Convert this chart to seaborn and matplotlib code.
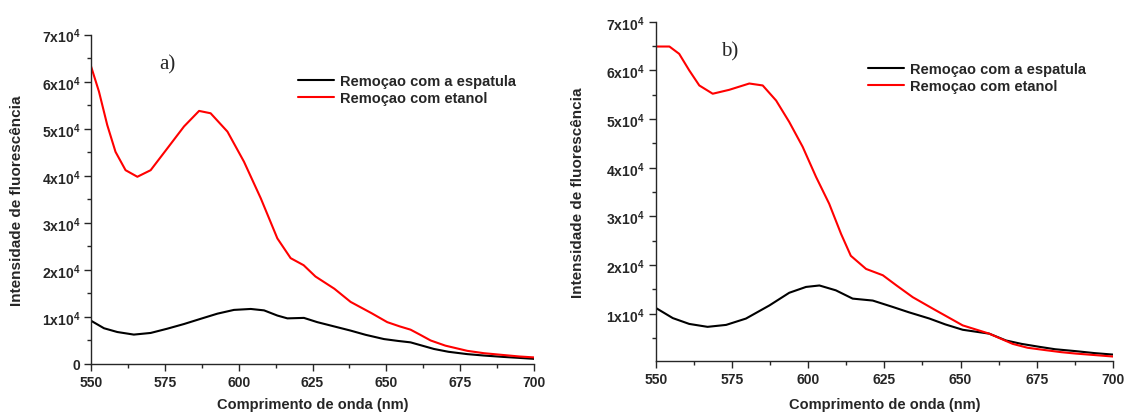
import numpy as np
import pandas as pd
import seaborn as sns
import matplotlib
matplotlib.use("Agg")
import matplotlib.pyplot as plt
from matplotlib.ticker import MultipleLocator, FuncFormatter

# panel a) values (y in units of 1e4)
a_esp_x = [550, 554.4, 558.9, 564.5, 570.2, 575.8, 581.5, 587.1, 592.8, 598.4, 604.1, 608.6, 613.1, 616.5, 622.1, 626.6, 631, 637.9, 643, 649.2, 654, 658.2, 666.1, 671, 677.4, 683, 689.8, 695, 700]
a_esp_y = [0.92, 0.76, 0.68, 0.625, 0.66, 0.75, 0.85, 0.96, 1.07, 1.15, 1.17, 1.14, 1.03, 0.97, 0.98, 0.89, 0.82, 0.71, 0.62, 0.53, 0.49, 0.46, 0.32, 0.26, 0.21, 0.18, 0.15, 0.13, 0.11]
a_eta_x = [550, 552.7, 555.5, 558.3, 561.7, 565.7, 570.2, 575.8, 581.5, 586.6, 590.5, 596.2, 601.8, 607.5, 613.1, 617.6, 622, 626, 632.4, 637.9, 645, 650.3, 654.5, 658.2, 661.5, 665, 670, 677.4, 683, 689.8, 695, 700]
a_eta_y = [6.33, 5.79, 5.08, 4.51, 4.12, 3.98, 4.12, 4.58, 5.05, 5.38, 5.33, 4.94, 4.30, 3.52, 2.67, 2.25, 2.1, 1.86, 1.60, 1.32, 1.08, 0.89, 0.80, 0.73, 0.62, 0.50, 0.39, 0.28, 0.23, 0.19, 0.16, 0.14]

# panel b)
b_esp_x = [550, 555.6, 561, 567, 573.1, 579.6, 587.3, 593.8, 599.3, 603.7, 609.1, 614.6, 621.2, 627.7, 633, 639.8, 645, 650.7, 659.4, 664.9, 670, 675.8, 681, 687.9, 694, 700]
b_esp_y = [1.12, 0.91, 0.79, 0.73, 0.77, 0.90, 1.17, 1.43, 1.55, 1.58, 1.48, 1.31, 1.27, 1.14, 1.03, 0.90, 0.78, 0.67, 0.59, 0.45, 0.38, 0.32, 0.27, 0.23, 0.19, 0.16]
b_eta_x = [550, 554.5, 557.7, 561.0, 564.3, 568.7, 574.1, 580.7, 585.1, 589.5, 593.8, 598.2, 602.6, 606.9, 610.8, 614, 619, 624.5, 629, 634.3, 641, 650.7, 659.4, 667.1, 672, 678, 683, 687.9, 694, 700]
b_eta_y = [6.49, 6.49, 6.34, 6.00, 5.69, 5.52, 5.60, 5.73, 5.69, 5.38, 4.94, 4.43, 3.81, 3.26, 2.64, 2.19, 1.92, 1.79, 1.58, 1.34, 1.10, 0.76, 0.59, 0.38, 0.30, 0.25, 0.21, 0.18, 0.15, 0.12]

lbl_esp = "Remoçao com a espatula"
lbl_eta = "Remoçao com etanol"


def make_df(ex, ey, tx, ty):
    d1 = pd.DataFrame({"x": ex, "y": np.array(ey) * 1e4, "serie": lbl_esp})
    d2 = pd.DataFrame({"x": tx, "y": np.array(ty) * 1e4, "serie": lbl_eta})
    return pd.concat([d1, d2], ignore_index=True)


sns.set_style("ticks")
plt.rcParams["font.family"] = ["Liberation Sans", "DejaVu Sans"]
plt.rcParams["font.weight"] = "bold"
plt.rcParams["mathtext.fontset"] = "custom"
plt.rcParams["mathtext.rm"] = "Liberation Sans:bold"
plt.rcParams["mathtext.default"] = "rm"

W, H = 1126, 414
fig = plt.figure(figsize=(W / 100, H / 100), dpi=100)
# axes boxes in pixels: left, right, top, bottom
ax1 = fig.add_axes([91 / W, 1 - 365 / H, (534 - 91) / W, (365 - 35.7) / H])
ax2 = fig.add_axes([655.7 / W, 1 - 362.3 / H, (1113 - 655.7) / W, (362.3 - 22.7) / H])

fmt = FuncFormatter(lambda v, p: "0" if v == 0 else "%dx10$^4$" % round(v / 1e4))

panels = [
    (ax1, make_df(a_esp_x, a_esp_y, a_eta_x, a_eta_y), "a)", (0.0, 7e4), (159, 65),
     (298, 81), -0.152, -0.100),
    (ax2, make_df(b_esp_x, b_esp_y, b_eta_x, b_eta_y), "b)", (220, 7e4), (721, 52),
     (868, 69), -0.155, -0.105),
]

for ax, df, tag, ylim, tagpos, legpos, ylx, xly in panels:
    sns.lineplot(data=df, x="x", y="y", hue="serie", palette={lbl_esp: "black", lbl_eta: "red"},
                 linewidth=1.5, ax=ax, sort=True)
    ax.set_xlim(550, 700)
    ax.set_ylim(*ylim)
    ax.xaxis.set_major_locator(MultipleLocator(25))
    ax.xaxis.set_minor_locator(MultipleLocator(12.5))
    ax.yaxis.set_major_locator(MultipleLocator(1e4))
    ax.yaxis.set_minor_locator(MultipleLocator(5e3))
    ax.yaxis.set_major_formatter(fmt)
    ax.tick_params(which="major", length=5, width=1, labelsize=10, direction="out", pad=3)
    ax.tick_params(which="minor", length=3, width=1, direction="out")
    for t in ax.get_xticklabels() + ax.get_yticklabels():
        t.set_fontweight("bold")
    ax.set_xlabel("Comprimento de onda (nm)", fontsize=10.5, fontweight="bold", va="top")
    ax.set_ylabel("Intensidade de fluorescência", fontsize=11, fontweight="bold")
    ax.yaxis.set_label_coords(ylx, 0.5)
    ax.xaxis.set_label_coords(0.5, xly)
    sns.despine(ax=ax)
    for s in ("left", "bottom"):
        ax.spines[s].set_linewidth(1)
    bx, by = legpos
    leg = ax.legend(frameon=False, loc="center left",
                    bbox_to_anchor=(bx / W, 1 - (by + 9.5) / H), bbox_transform=fig.transFigure,
                    fontsize=10.5, handlelength=2.5, handletextpad=0.4, labelspacing=0.25,
                    borderpad=0, borderaxespad=0)
    for t in leg.get_texts():
        t.set_fontweight("bold")
    fig.text(tagpos[0] / W, 1 - tagpos[1] / H, tag, family="Liberation Serif",
             fontsize=15, fontweight="normal", ha="left", va="center")

fig.savefig("out.png", dpi=100)
